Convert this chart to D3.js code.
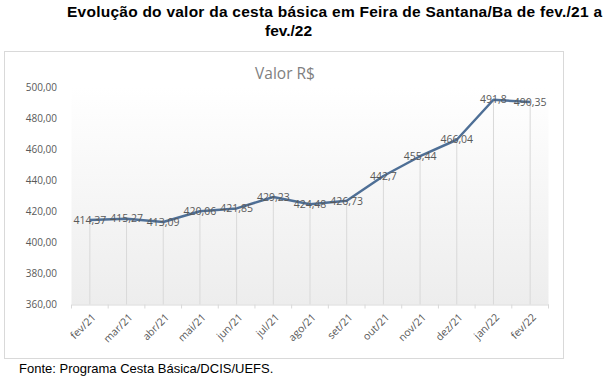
<!doctype html>
<html>
<head>
<meta charset="utf-8">
<style>
  body { margin: 0; background: #fff; }
  svg { display: block; font-family: "Liberation Sans", Arial, sans-serif; }
</style>
</head>
<body>
<svg></svg>
<script src="https://d3js.org/d3.v7.min.js"></script>
<script>
let width = 603,
    height = 377;

// data
let months = ["fev/21", "mar/21", "abr/21", "mai/21", "jun/21", "jul/21", "ago/21",
              "set/21", "out/21", "nov/21", "dez/21", "jan/22", "fev/22"];
let values = [414.37, 415.27, 413.09, 420.06, 421.85, 429.23, 424.48,
              426.73, 442.7, 455.44, 466.04, 491.8, 490.35];
let labels = ["414,37", "415,27", "413,09", "420,06", "421,85", "429,23", "424,48",
              "426,73", "442,7", "455,44", "466,04", "491,8", "490,35"];
let yTicks = [360, 380, 400, 420, 440, 460, 480, 500];

let svg = d3.select("svg")
    .attr("width", width)
    .attr("height", height);

let defs = svg.append("defs");
let grad = defs.append("linearGradient")
    .attr("id", "bg")
    .attr("x1", 0).attr("y1", 0).attr("x2", 0).attr("y2", 1);
grad.append("stop").attr("offset", "0%").attr("stop-color", "#ffffff");
grad.append("stop").attr("offset", "100%").attr("stop-color", "#ededed");

// title
svg.append("text")
    .attr("x", 67).attr("y", 17)
    .style("font-weight", "bold").style("font-size", "15.5px")
    .attr("fill", "#000")
    .attr("textLength", 535)
    .text("Evolução do valor da cesta básica em Feira de Santana/Ba de fev./21 a");
svg.append("text")
    .attr("x", 265).attr("y", 36)
    .style("font-weight", "bold").style("font-size", "15.5px")
    .attr("fill", "#000")
    .text("fev./22");

// chart frame
svg.append("rect")
    .attr("x", 4.5).attr("y", 51.5)
    .attr("width", 559).attr("height", 307)
    .attr("fill", "#fff")
    .attr("stroke", "#d9d9d9");

svg.append("text")
    .attr("x", 285).attr("y", 79)
    .attr("text-anchor", "middle")
    .style("font-family", "'Open Sans', sans-serif")
    .style("font-size", "15.5px")
    .attr("fill", "#7f7f7f")
    .text("Valor R$");

let x = d3.scaleBand()
    .domain(months)
    .range([71.5, 548.5]);

let y = d3.scaleLinear()
    .domain([360, 500])
    .range([304.5, 87]);

let cx = m => x(m) + x.bandwidth() / 2;

// plot background
svg.append("rect")
    .attr("x", 71.5).attr("y", 87)
    .attr("width", 477).attr("height", 217.5)
    .attr("fill", "url(#bg)");

// y axis labels
svg.append("g")
    .selectAll("text")
    .data(yTicks)
    .enter()
    .append("text")
    .attr("x", 57)
    .attr("y", d => y(d))
    .attr("dy", "0.35em")
    .attr("text-anchor", "end")
    .style("font-family", "'Open Sans', sans-serif")
    .style("font-size", "10px")
    .attr("fill", "#595959")
    .text(d => d3.format(".2f")(d).replace(".", ","));

// drop lines
svg.append("g")
    .selectAll("line")
    .data(values)
    .enter()
    .append("line")
    .attr("x1", (d, i) => cx(months[i]))
    .attr("x2", (d, i) => cx(months[i]))
    .attr("y1", d => y(d))
    .attr("y2", y(360))
    .attr("stroke", "#d9d9d9")
    .attr("stroke-width", 1);

// x axis
let xAxis = svg.append("g")
    .attr("transform", "translate(0," + y(360) + ")")
    .call(d3.axisBottom(x).tickSize(4).tickSizeOuter(0));
xAxis.select(".domain").attr("stroke", "#d9d9d9");
xAxis.selectAll(".tick line")
    .attr("stroke", "#d9d9d9")
    .attr("transform", "translate(" + (-x.bandwidth() / 2) + ",0)");
xAxis.append("line")
    .attr("x1", 548.5).attr("x2", 548.5).attr("y1", 0).attr("y2", 4)
    .attr("stroke", "#d9d9d9");
xAxis.selectAll(".tick text")
    .style("font-family", "'Open Sans', sans-serif")
    .style("font-size", "10.5px")
    .attr("fill", "#595959")
    .attr("text-anchor", "end")
    .attr("x", 0).attr("y", 0)
    .attr("dy", "0.35em")
    .attr("transform", "translate(4,11) rotate(-45)");

// line
let line = d3.line()
    .x((d, i) => cx(months[i]))
    .y(d => y(d));

svg.append("path")
    .datum(values)
    .attr("fill", "none")
    .attr("stroke", "#4e6f96")
    .attr("stroke-width", 2.5)
    .attr("stroke-linejoin", "round")
    .attr("d", line);

// data labels
svg.append("g")
    .selectAll("text")
    .data(values)
    .enter()
    .append("text")
    .attr("x", (d, i) => cx(months[i]))
    .attr("y", d => y(d))
    .attr("dy", "0.35em")
    .attr("text-anchor", "middle")
    .style("font-family", "'Open Sans', sans-serif")
    .style("font-size", "10.5px")
    .attr("fill", "#595959")
    .text((d, i) => labels[i]);

// source
svg.append("text")
    .attr("x", 19).attr("y", 373)
    .style("font-size", "13px")
    .attr("fill", "#000")
    .text("Fonte: Programa Cesta Básica/DCIS/UEFS.");
</script>
</body>
</html>
